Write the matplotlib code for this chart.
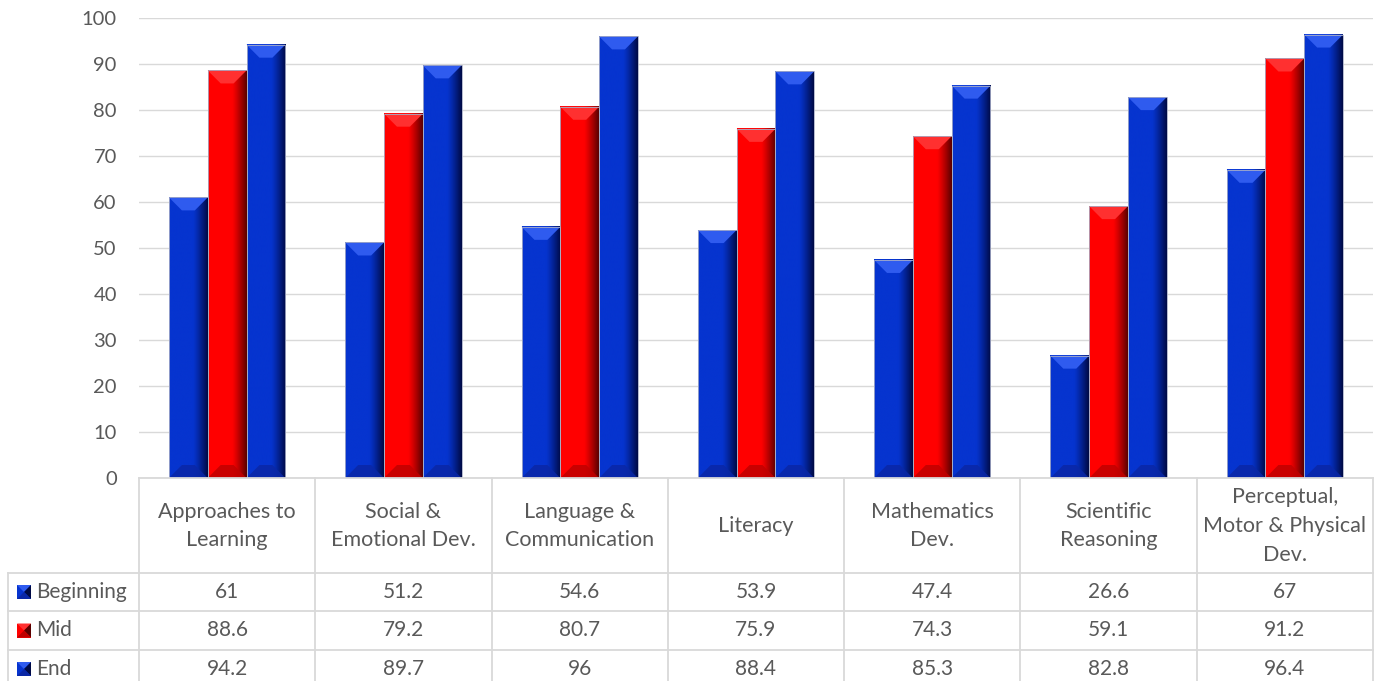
import numpy as np
import matplotlib
matplotlib.use('Agg')
import matplotlib.pyplot as plt
from matplotlib.patches import Polygon
from matplotlib.lines import Line2D
from matplotlib.transforms import blended_transform_factory
from matplotlib.colors import to_rgb

# Data
categories = ['Approaches to\nLearning', 'Social &\nEmotional Dev.', 'Language &\nCommunication',
              'Literacy', 'Mathematics\nDev.', 'Scientific\nReasoning',
              'Perceptual,\nMotor & Physical\nDev.']
series_names = ['Beginning', 'Mid', 'End']
beginning = [61, 51.2, 54.6, 53.9, 47.4, 26.6, 67]
mid = [88.6, 79.2, 80.7, 75.9, 74.3, 59.1, 91.2]
end = [94.2, 89.7, 96, 88.4, 85.3, 82.8, 96.4]
yticks = [0, 10, 20, 30, 40, 50, 60, 70, 80, 90, 100]

BLUE = dict(base='#0634CF', light='#2F5BEF', dark='#0A27A6', deep='#000A45')
RED = dict(base='#FF0000', light='#FF3030', dark='#C00000', deep='#5A0000')
styles = [BLUE, RED, BLUE]
TXT = '#595959'
GRID = '#D9D9D9'
FONT = 'Lato'
FS = 14.5

W, H = 1383, 681
fig = plt.figure(figsize=(W / 100, H / 100), dpi=100)
ax = fig.add_axes([139 / W, 1 - 478 / H, (1373 - 139) / W, (478 - 18) / H])

x = np.arange(len(categories))
bw = 0.22
all_series = [beginning, mid, end]
bars = []
for k, (vals, st) in enumerate(zip(all_series, styles)):
    b = ax.bar(x + (k - 1) * bw, vals, bw, color=st['base'], zorder=2, linewidth=0)
    bars.append(b)

ax.set_xlim(-0.5, len(categories) - 0.5)
ax.set_ylim(0, 100)

# bevel size in data units (about 13 px)
p0 = ax.transData.transform((0, 0))
p1 = ax.transData.transform((1, 1))
dy = 13 / (p1[1] - p0[1])
dx = min(13 / (p1[0] - p0[0]), bw / 3)

t = np.linspace(0, 1, 80)
for b, st in zip(bars, styles):
    base = np.array(to_rgb(st['base']))
    deep = np.array(to_rgb(st['deep']))
    mix = np.clip((t - 0.62) / 0.38, 0, 1) ** 1.2
    img = base[None, :] * (1 - mix)[:, None] + deep[None, :] * mix[:, None]
    for r in b:
        x0, w, h = r.get_x(), r.get_width(), r.get_height()
        ax.imshow(img[None, :, :], extent=(x0, x0 + w, 0, h), aspect='auto',
                  zorder=3, interpolation='bilinear')
        ax.add_patch(Polygon([(x0, h), (x0 + w, h), (x0 + w - dx, h - dy), (x0 + dx, h - dy)],
                             closed=True, facecolor=st['light'], edgecolor='none', zorder=4))
        ax.add_patch(Polygon([(x0, 0), (x0 + w, 0), (x0 + w - dx, dy), (x0 + dx, dy)],
                             closed=True, facecolor=st['dark'], edgecolor='none', alpha=0.85, zorder=4))
        ax.add_patch(plt.Rectangle((x0, 0), w, h, fill=False, edgecolor='#A8AEC8',
                                   linewidth=0.6, zorder=5))

ax.set_xlim(-0.5, len(categories) - 0.5)
ax.set_ylim(0, 100)
ax.set_yticks(yticks)
ax.set_yticklabels([str(v) for v in yticks], fontsize=FS, color=TXT, family=FONT)
ax.set_xticks([])
ax.tick_params(axis='y', length=0, pad=16)
ax.yaxis.grid(True, color=GRID, linewidth=1.0, zorder=0)
ax.set_axisbelow(True)
for s in ax.spines.values():
    s.set_visible(False)


def fy(py):
    return 1 - py / H


blend = blended_transform_factory(ax.transData, fig.transFigure)

# data table lines
row_lines = [573, 611, 650]
bottom = 700
left_x = 8
for i in range(len(categories) + 1):
    ax.add_line(Line2D([i - 0.5, i - 0.5], [fy(478), fy(bottom)], transform=blend,
                       color=GRID, linewidth=1.3, clip_on=False))
fig.add_artist(Line2D([left_x / W, left_x / W], [fy(573), fy(bottom)], color=GRID, linewidth=1.3))
fig.add_artist(Line2D([139 / W, 1373 / W], [fy(478), fy(478)], color=GRID, linewidth=1.3))
for py in row_lines:
    fig.add_artist(Line2D([left_x / W, 1373 / W], [fy(py), fy(py)], color=GRID, linewidth=1.3))

# header texts
for i, c in enumerate(categories):
    ax.text(i, fy(526), c, transform=blend, ha='center', va='center', fontsize=15.5,
            color=TXT, family=FONT, linespacing=1.56, clip_on=False)

# values and row labels
row_centers = [592, 630.5, 669]
for vals, name, st, cy in zip(all_series, series_names, styles, row_centers):
    for i, v in enumerate(vals):
        ax.text(i, fy(cy), f'{v:g}', transform=blend, ha='center', va='center',
                fontsize=15, color=TXT, family=FONT, clip_on=False)
    fig.text(36 / W, fy(cy), name, ha='left', va='center', fontsize=15, color=TXT, family=FONT)
    # legend key
    kx0, kx1 = 17, 31
    ky0, ky1 = cy - 7, cy + 7
    cx, cyy = (kx0 + kx1) / 2, cy

    def pts(lst):
        return [(px / W, fy(py)) for px, py in lst]

    fig.add_artist(Polygon(pts([(kx0, ky0), (kx1, ky0), (kx1, ky1), (kx0, ky1)]),
                           closed=True, facecolor=st['base'], edgecolor='none'))
    fig.add_artist(Polygon(pts([(kx0, ky0), (kx1, ky0), (cx, cyy)]),
                           closed=True, facecolor=st['light'], edgecolor='none'))
    fig.add_artist(Polygon(pts([(kx1, ky0), (kx1, ky1), (cx, cyy)]),
                           closed=True, facecolor=st['deep'], edgecolor='none'))
    fig.add_artist(Polygon(pts([(kx0, ky1), (kx1, ky1), (cx, cyy)]),
                           closed=True, facecolor=st['dark'], edgecolor='none'))

fig.savefig('out.png', dpi=100)
